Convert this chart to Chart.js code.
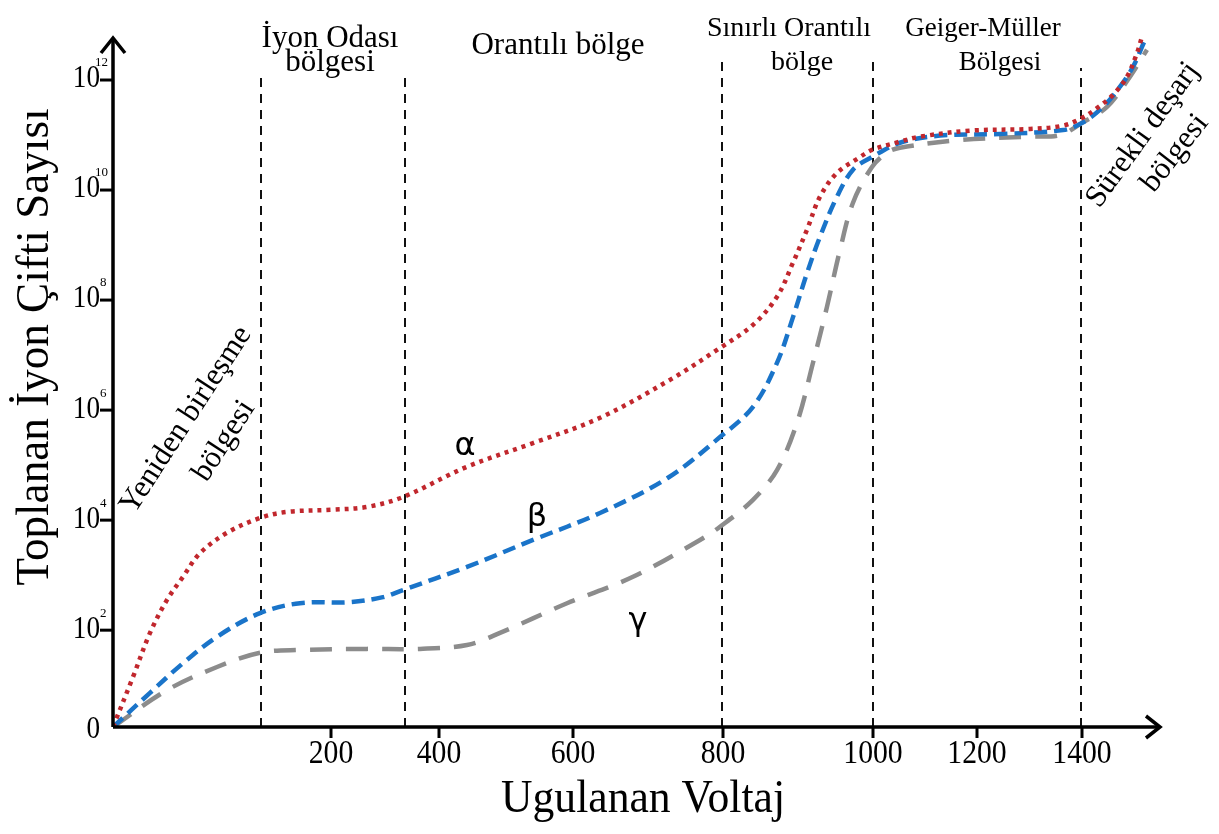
<!DOCTYPE html>
<html>
<head>
<meta charset="utf-8">
<script src="https://cdn.jsdelivr.net/npm/chart.js@4.4.1/dist/chart.umd.min.js"></script>
<style>
    html, body { margin: 0; padding: 0; background: #fff; }
    #wrap { width: 1219px; height: 834px; }
</style>
</head>
<body>
<div id="wrap"><canvas id="ionChart" width="1219" height="834"></canvas></div>
<script>
// x = position along the (non-uniform) voltage axis, y = decades (10^y)
const alphaX = [0, 2.0, 3.7, 5.4, 7.0, 8.7, 11.4, 14.7, 17.4, 22.0, 25.4, 29.0, 35.4, 42.0, 48.7, 55.7, 60.7, 64.0, 66.4, 68.0, 69.4, 70.7, 72.4, 74.7, 75.9, 78.7, 80.7, 85.7, 91.7, 95.0, 96.9, 98.4, 100.0, 101.4, 102.4, 102.9];
const alphaY = [0.24, 1.15, 1.95, 2.55, 2.97, 3.40, 3.77, 4.04, 4.15, 4.19, 4.24, 4.42, 4.97, 5.40, 5.86, 6.55, 7.13, 7.55, 8.06, 8.68, 9.28, 9.88, 10.31, 10.60, 10.73, 10.88, 10.97, 11.08, 11.11, 11.17, 11.31, 11.49, 11.73, 12.06, 12.49, 12.79];

const betaX = [0, 3.7, 7.0, 10.4, 14.7, 18.7, 23.7, 27.0, 29.0, 35.4, 42.0, 48.7, 55.5, 60.7, 64.0, 66.4, 68.0, 69.4, 70.7, 72.4, 74.0, 75.9, 78.7, 82.7, 88.7, 95.0, 96.9, 99.0, 100.7, 102.0, 103.2];
const betaY = [0.24, 0.86, 1.40, 1.88, 2.31, 2.49, 2.51, 2.60, 2.73, 3.15, 3.64, 4.13, 4.77, 5.51, 6.06, 6.86, 7.69, 8.49, 9.15, 9.88, 10.37, 10.60, 10.86, 10.99, 11.02, 11.09, 11.22, 11.51, 11.88, 12.24, 12.73];

const gammaX = [0, 5.4, 10.4, 14.7, 18.7, 25.4, 30.7, 35.4, 38.7, 45.4, 52.0, 58.7, 60.7, 64.0, 66.4, 68.4, 70.0, 71.4, 72.7, 74.0, 75.9, 77.4, 78.7, 84.7, 91.7, 94.7, 96.9, 99.4, 101.7, 103.4];
const gammaY = [0.24, 0.91, 1.33, 1.59, 1.64, 1.66, 1.66, 1.73, 1.95, 2.49, 2.97, 3.64, 3.88, 4.37, 4.91, 5.77, 6.86, 7.88, 8.91, 9.77, 10.42, 10.68, 10.77, 10.91, 10.97, 11.00, 11.22, 11.51, 12.06, 12.55];

// region boundaries (dashed verticals)
const dividerX = [14.8, 29.2, 60.9, 76.0, 96.8];
const dividerTop = [12.09, 12.09, 12.33, 12.33, 12.22];

// axis ticks
const xTickPos = [21.8, 32.6, 46.0, 61.0, 76.0, 86.4, 96.9];
const xTickLabels = ['200', '400', '600', '800', '1000', '1200', '1400'];
const yTickPos = [0.24, 2, 4, 6, 8, 10, 12];
const yTickExp = ['', '2', '4', '6', '8', '10', '12'];

// region names: [text, x, y, font size]
const regionLabels = [
    ['İyon Odası', 21.7, 12.74, 31],
    ['bölgesi', 21.7, 12.31, 31],
    ['Orantılı bölge', 44.5, 12.62, 31],
    ['Sınırlı Orantılı', 67.6, 12.93, 28],
    ['bölge', 68.9, 12.31, 28],
    ['Geiger-Müller', 87.0, 12.93, 27],
    ['Bölgesi', 88.7, 12.31, 27]
];
const slantLabels = [
    ['Yeniden birleşme', 7.3, 5.82, -57],
    ['bölgesi', 11.1, 5.44, -57],
    ['Sürekli deşarj', 103.0, 11.0, -54],
    ['bölgesi', 106.2, 10.67, -52]
];
const greekLabels = [
    ['α', 35.2, 5.33],
    ['β', 42.4, 4.04],
    ['γ', 52.5, 2.15]
];

function toPoints(xs, ys) {
    return xs.map((x, i) => ({ x: x, y: ys[i] }));
}

const curveStyle = {
    pointRadius: 0,
    fill: false,
    tension: 0.35,
    borderCapStyle: 'butt',
    order: 0
};

const datasets = [
    Object.assign({ label: 'α', data: toPoints(alphaX, alphaY), borderColor: '#c1272d', borderWidth: 4.5, borderDash: [4, 5] }, curveStyle),
    Object.assign({ label: 'β', data: toPoints(betaX, betaY), borderColor: '#1a74c9', borderWidth: 4.5, borderDash: [13, 7] }, curveStyle),
    Object.assign({ label: 'γ', data: toPoints(gammaX, gammaY), borderColor: '#8c8c8c', borderWidth: 4.5, borderDash: [22, 14] }, curveStyle)
];

dividerX.forEach(function (x, i) {
    datasets.push({
        label: 'sınır',
        data: [{ x: x, y: 0.24 }, { x: x, y: dividerTop[i] }],
        borderColor: '#111',
        borderWidth: 2,
        borderDash: [9, 7],
        pointRadius: 0,
        order: 5
    });
});

const SERIF = '"Liberation Serif", "Times New Roman", serif';

// text with optional horizontal squeeze (sx) and rotation (deg)
function drawText(ctx, text, x, y, size, sx, deg, align) {
    ctx.save();
    ctx.font = size + 'px ' + SERIF;
    ctx.translate(x, y);
    ctx.rotate((deg || 0) * Math.PI / 180);
    ctx.scale(sx || 1, 1);
    ctx.textAlign = align || 'center';
    ctx.textBaseline = 'middle';
    ctx.fillText(text, 0, 0);
    ctx.restore();
}

function fitText(ctx, text, x, y, size, width, deg) {
    ctx.save();
    ctx.font = size + 'px ' + SERIF;
    const w = ctx.measureText(text).width;
    ctx.restore();
    drawText(ctx, text, x, y, size, width / w, deg);
}

const axesPlugin = {
    id: 'axesPlugin',
    afterDraw(chart) {
        const ctx = chart.ctx;
        const xs = chart.scales.x, ys = chart.scales.y;
        const x0 = xs.getPixelForValue(0), y0 = ys.getPixelForValue(0.24);
        const xEnd = xs.right, yEnd = ys.top + 2;

        ctx.save();
        ctx.strokeStyle = '#000';
        ctx.fillStyle = '#000';
        ctx.lineWidth = 3.5;
        ctx.lineCap = 'butt';
        ctx.beginPath();
        ctx.moveTo(x0, y0); ctx.lineTo(xEnd, y0);
        ctx.moveTo(x0, y0); ctx.lineTo(x0, yEnd);
        ctx.stroke();
        // arrow heads
        ctx.beginPath();
        ctx.moveTo(x0 - 12, yEnd + 15); ctx.lineTo(x0, yEnd); ctx.lineTo(x0 + 12, yEnd + 15);
        ctx.moveTo(xEnd - 14, y0 - 11); ctx.lineTo(xEnd, y0); ctx.lineTo(xEnd - 14, y0 + 11);
        ctx.stroke();

        // x ticks
        ctx.lineWidth = 3;
        xTickPos.forEach(function (v, i) {
            const px = xs.getPixelForValue(v);
            ctx.beginPath(); ctx.moveTo(px, y0); ctx.lineTo(px, y0 + 11); ctx.stroke();
            drawText(ctx, xTickLabels[i], px, y0 + 27, 33, 0.9);
        });

        // y ticks
        yTickPos.forEach(function (v, i) {
            const py = ys.getPixelForValue(v);
            if (yTickExp[i] === '') {
                drawText(ctx, '0', x0 - 13, py + 3, 32, 0.85, 0, 'right');
                return;
            }
            ctx.beginPath(); ctx.moveTo(x0 - 13, py); ctx.lineTo(x0, py); ctx.stroke();
            drawText(ctx, '10', x0 - 13, py - 1, 32, 0.85, 0, 'right');
            drawText(ctx, yTickExp[i], x0 - 18 + (yTickExp[i].length > 1 ? 0 : 5), py - 17, 13, 1, 0, 'left');
        });

        // region names
        regionLabels.forEach(function (l) {
            drawText(ctx, l[0], xs.getPixelForValue(l[1]), ys.getPixelForValue(l[2]), l[3], 1);
        });
        slantLabels.forEach(function (l) {
            drawText(ctx, l[0], xs.getPixelForValue(l[1]), ys.getPixelForValue(l[2]), 31, 1, l[3]);
        });
        ctx.font = '32px "DejaVu Sans", sans-serif';
        ctx.textAlign = 'center';
        ctx.textBaseline = 'middle';
        greekLabels.forEach(function (l) {
            ctx.fillText(l[0], xs.getPixelForValue(l[1]), ys.getPixelForValue(l[2]));
        });

        // axis titles
        fitText(ctx, 'Toplanan İyon Çifti Sayısı', 36, 347, 46, 477, -90);
        fitText(ctx, 'Ugulanan Voltaj', 643, 800, 46, 284, 0);
        ctx.restore();
    }
};

new Chart(document.getElementById('ionChart').getContext('2d'), {
    type: 'line',
    data: { datasets: datasets },
    options: {
        responsive: false,
        animation: false,
        layout: { padding: { left: 113, right: 59, top: 36, bottom: 107 } },
        plugins: { legend: { display: false }, tooltip: { enabled: false } },
        scales: {
            x: { type: 'linear', min: 0, max: 104.7, display: false },
            y: { type: 'linear', min: 0.24, max: 12.8, display: false }
        }
    },
    plugins: [axesPlugin]
});
</script>
</body>
</html>
